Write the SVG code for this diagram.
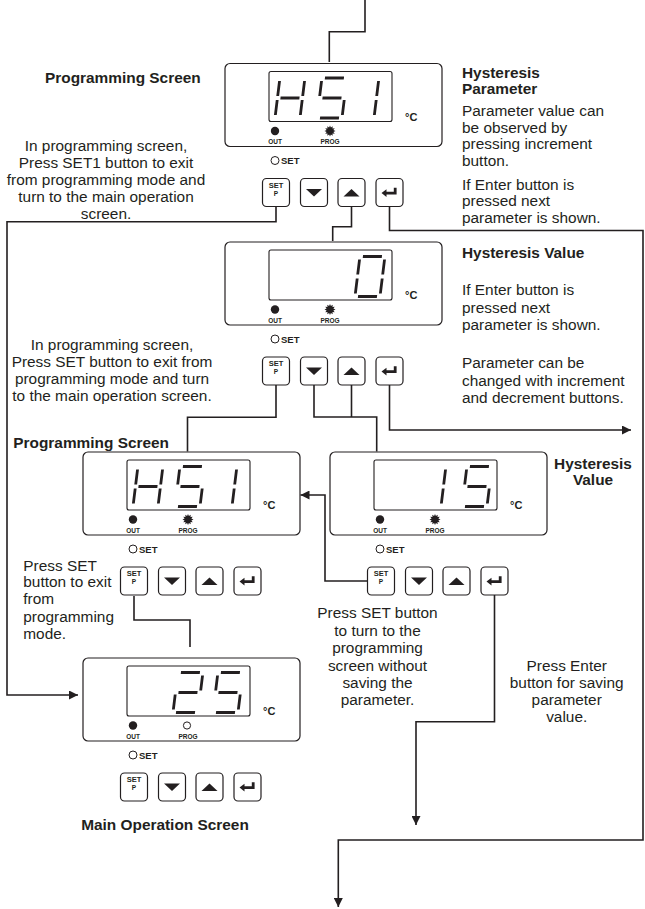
<svg xmlns="http://www.w3.org/2000/svg" xmlns:xlink="http://www.w3.org/1999/xlink" width="645" height="909" viewBox="0 0 645 909">
<style>
.box{fill:#fff;stroke:#231f20;stroke-width:1.2}
.disp{fill:none;stroke:#231f20;stroke-width:1.1}
.btn{fill:#fff;stroke:#231f20;stroke-width:1.2}
.seg{fill:none;stroke:#231f20;stroke-width:2.8}
.ink{fill:#231f20}
.ring{fill:#fff;stroke:#231f20;stroke-width:1}
.t{font-family:"Liberation Sans",Arial,sans-serif;font-size:15.4px;fill:#231f20}
.b{font-weight:bold}
.m{text-anchor:middle}
.lab{font-family:"Liberation Sans",Arial,sans-serif;font-size:6.5px;font-weight:bold;text-anchor:middle;fill:#231f20}
.bt{font-family:"Liberation Sans",Arial,sans-serif;font-weight:bold;text-anchor:middle;fill:#231f20}
.deg{font-family:"Liberation Sans",Arial,sans-serif;font-size:11px;font-weight:bold;fill:#231f20}
.sl{font-family:"Liberation Sans",Arial,sans-serif;font-size:9.5px;font-weight:bold;fill:#231f20}
.wire{fill:none;stroke:#231f20;stroke-width:1.6}
</style>
<defs>
<marker id="ah" viewBox="0 0 10 10" refX="10" refY="5" markerWidth="11" markerHeight="9" markerUnits="userSpaceOnUse" orient="auto"><path d="M0,0 L10,5 L0,10 Z" fill="#231f20"/></marker>
<path id="dH" class="seg" d="M0,-37V-22M0,-18V-3M25,-37V-22M25,-18V-3M3,-20H22"/>
<path id="d5" class="seg" d="M3,-40H22M0,-37V-22M3,-20H22M25,-18V-3M3,0H22"/>
<path id="d1" class="seg" d="M25,-37V-22M25,-18V-3"/>
<path id="d0" class="seg" d="M3,-40H22M25,-37V-22M25,-18V-3M3,0H22M0,-18V-3M0,-37V-22"/>
<path id="d2" class="seg" d="M3,-40H22M25,-37V-22M3,-20H22M0,-18V-3M3,0H22"/>
<polygon id="sun" class="ink" points="5.5,0 3.38,0.91 4.76,2.75 2.47,2.47 2.75,4.76 0.91,3.38 0,5.5 -0.91,3.38 -2.75,4.76 -2.47,2.47 -4.76,2.75 -3.38,0.91 -5.5,0 -3.38,-0.91 -4.76,-2.75 -2.47,-2.47 -2.75,-4.76 -0.91,-3.38 0,-5.5 0.91,-3.38 2.75,-4.76 2.47,-2.47 4.76,-2.75 3.38,-0.91"/>
<path id="ent" class="ink" d="M156.5,129.6 L161.5,125.8 V128.3 H168.8 V124.3 H171.6 V131 H161.5 V133.4 Z"/>
</defs>

<g id="connectors">
<path class="wire" d="M365,0 V31.7 H329.3 V62"/>
<path class="wire" marker-end="url(#ah)" d="M276,207 V221.7 H7 V695 H78"/>
<path class="wire" d="M351.5,207 V226.7 H332.7 V241"/>
<path class="wire" marker-end="url(#ah)" d="M389.5,207 V230.5 H643 V840 H338.3 V907"/>
<path class="wire" d="M276,385 V417.3 H187.5 V451.5"/>
<path class="wire" d="M314,385 V417 H376.7 V451.5 M351.5,385 V417"/>
<path class="wire" marker-end="url(#ah)" d="M389.5,385 V430 H631"/>
<path class="wire" marker-end="url(#ah)" d="M367.5,581 H325 V495 H300.5"/>
<path class="wire" marker-end="url(#ah)" d="M494.5,595 V721.7 H416 V825"/>
<path class="wire" d="M134,596 V620 H190 V647"/>
</g>

<g id="dev1" transform="translate(225,63.5)">
<rect class="box" x="0" y="0" width="217" height="83" rx="5"/>
<rect class="disp" x="44" y="8" width="123" height="50" rx="2"/>
<use href="#dH" transform="translate(50,54.5) skewX(-7)"/>
<use href="#d5" transform="translate(92,54.5) skewX(-7)"/>
<use href="#d1" transform="translate(124,54.5) skewX(-7)"/>
<text class="deg" x="180" y="57">°C</text>
<circle class="ink" cx="50" cy="67.5" r="4.2"/>
<use href="#sun" transform="translate(105,67.5)"/>
<text class="lab" x="50" y="80.5">OUT</text>
<text class="lab" x="105" y="80.5">PROG</text>
<circle class="ring" cx="50" cy="97" r="4"/>
<text class="sl" x="56" y="100.5">SET</text>
<rect class="btn" x="37.5" y="115" width="27" height="28" rx="4"/>
<text class="bt" x="51" y="124" font-size="7.5">SET</text>
<text class="bt" x="51" y="132" font-size="6.5">P</text>
<rect class="btn" x="75.5" y="115" width="27" height="28" rx="4"/>
<polygon class="ink" points="81,125.5 97,125.5 89,133"/>
<rect class="btn" x="113" y="115" width="27" height="28" rx="4"/>
<polygon class="ink" points="118.5,133 134.5,133 126.5,125.5"/>
<rect class="btn" x="151" y="115" width="27" height="28" rx="4"/>
<use href="#ent"/>
</g>

<g id="dev2" transform="translate(225,242)">
<rect class="box" x="0" y="0" width="217" height="83" rx="5"/>
<rect class="disp" x="44" y="8" width="123" height="50" rx="2"/>
<use href="#d0" transform="translate(130,54.5) skewX(-7)"/>
<text class="deg" x="180" y="57">°C</text>
<circle class="ink" cx="50" cy="67.5" r="4.2"/>
<use href="#sun" transform="translate(105,67.5)"/>
<text class="lab" x="50" y="80.5">OUT</text>
<text class="lab" x="105" y="80.5">PROG</text>
<circle class="ring" cx="50" cy="97" r="4"/>
<text class="sl" x="56" y="100.5">SET</text>
<rect class="btn" x="37.5" y="115" width="27" height="28" rx="4"/>
<text class="bt" x="51" y="124" font-size="7.5">SET</text>
<text class="bt" x="51" y="132" font-size="6.5">P</text>
<rect class="btn" x="75.5" y="115" width="27" height="28" rx="4"/>
<polygon class="ink" points="81,125.5 97,125.5 89,133"/>
<rect class="btn" x="113" y="115" width="27" height="28" rx="4"/>
<polygon class="ink" points="118.5,133 134.5,133 126.5,125.5"/>
<rect class="btn" x="151" y="115" width="27" height="28" rx="4"/>
<use href="#ent"/>
</g>

<g id="dev3" transform="translate(83,452)">
<rect class="box" x="0" y="0" width="217" height="83" rx="5"/>
<rect class="disp" x="44" y="8" width="123" height="50" rx="2"/>
<use href="#dH" transform="translate(50,54.5) skewX(-7)"/>
<use href="#d5" transform="translate(92,54.5) skewX(-7)"/>
<use href="#d1" transform="translate(124,54.5) skewX(-7)"/>
<text class="deg" x="180" y="57">°C</text>
<circle class="ink" cx="50" cy="67.5" r="4.2"/>
<use href="#sun" transform="translate(105,67.5)"/>
<text class="lab" x="50" y="80.5">OUT</text>
<text class="lab" x="105" y="80.5">PROG</text>
<circle class="ring" cx="50" cy="97" r="4"/>
<text class="sl" x="56" y="100.5">SET</text>
<rect class="btn" x="37.5" y="115" width="27" height="28" rx="4"/>
<text class="bt" x="51" y="124" font-size="7.5">SET</text>
<text class="bt" x="51" y="132" font-size="6.5">P</text>
<rect class="btn" x="75.5" y="115" width="27" height="28" rx="4"/>
<polygon class="ink" points="81,125.5 97,125.5 89,133"/>
<rect class="btn" x="113" y="115" width="27" height="28" rx="4"/>
<polygon class="ink" points="118.5,133 134.5,133 126.5,125.5"/>
<rect class="btn" x="151" y="115" width="27" height="28" rx="4"/>
<use href="#ent"/>
</g>

<g id="dev4" transform="translate(330,452)">
<rect class="box" x="0" y="0" width="217" height="83" rx="5"/>
<rect class="disp" x="44" y="8" width="123" height="50" rx="2"/>
<use href="#d1" transform="translate(86,54.5) skewX(-7)"/>
<use href="#d5" transform="translate(132,54.5) skewX(-7)"/>
<text class="deg" x="180" y="57">°C</text>
<circle class="ink" cx="50" cy="67.5" r="4.2"/>
<use href="#sun" transform="translate(105,67.5)"/>
<text class="lab" x="50" y="80.5">OUT</text>
<text class="lab" x="105" y="80.5">PROG</text>
<circle class="ring" cx="50" cy="97" r="4"/>
<text class="sl" x="56" y="100.5">SET</text>
<rect class="btn" x="37.5" y="115" width="27" height="28" rx="4"/>
<text class="bt" x="51" y="124" font-size="7.5">SET</text>
<text class="bt" x="51" y="132" font-size="6.5">P</text>
<rect class="btn" x="75.5" y="115" width="27" height="28" rx="4"/>
<polygon class="ink" points="81,125.5 97,125.5 89,133"/>
<rect class="btn" x="113" y="115" width="27" height="28" rx="4"/>
<polygon class="ink" points="118.5,133 134.5,133 126.5,125.5"/>
<rect class="btn" x="151" y="115" width="27" height="28" rx="4"/>
<use href="#ent"/>
</g>

<g id="dev5" transform="translate(83,658)">
<rect class="box" x="0" y="0" width="217" height="83" rx="5"/>
<rect class="disp" x="44" y="8" width="123" height="50" rx="2"/>
<use href="#d2" transform="translate(90,54.5) skewX(-7)"/>
<use href="#d5" transform="translate(130,54.5) skewX(-7)"/>
<text class="deg" x="180" y="57">°C</text>
<circle class="ink" cx="50" cy="67.5" r="4.2"/>
<circle class="ring" cx="104" cy="67.5" r="3.6"/>
<text class="lab" x="50" y="80.5">OUT</text>
<text class="lab" x="105" y="80.5">PROG</text>
<circle class="ring" cx="50" cy="97" r="4"/>
<text class="sl" x="56" y="100.5">SET</text>
<rect class="btn" x="37.5" y="115" width="27" height="28" rx="4"/>
<text class="bt" x="51" y="124" font-size="7.5">SET</text>
<text class="bt" x="51" y="132" font-size="6.5">P</text>
<rect class="btn" x="75.5" y="115" width="27" height="28" rx="4"/>
<polygon class="ink" points="81,125.5 97,125.5 89,133"/>
<rect class="btn" x="113" y="115" width="27" height="28" rx="4"/>
<polygon class="ink" points="118.5,133 134.5,133 126.5,125.5"/>
<rect class="btn" x="151" y="115" width="27" height="28" rx="4"/>
<use href="#ent"/>
</g>

<g id="labels">
<text class="t b" x="45" y="83">Programming Screen</text>
<text class="t m" x="106"><tspan x="106" y="151">In programming screen,</tspan><tspan x="106" y="168">Press SET1 button to exit</tspan><tspan x="106" y="185">from programming mode and</tspan><tspan x="106" y="202">turn to the main operation</tspan><tspan x="106" y="219">screen.</tspan></text>
<text class="t b" x="462"><tspan x="462" y="78">Hysteresis</tspan><tspan x="462" y="94">Parameter</tspan></text>
<text class="t" x="462"><tspan x="462" y="116">Parameter value can</tspan><tspan x="462" y="132.5">be observed by</tspan><tspan x="462" y="149">pressing increment</tspan><tspan x="462" y="165.5">button.</tspan><tspan x="462" y="189.5">If Enter button is</tspan><tspan x="462" y="206">pressed next</tspan><tspan x="462" y="222.5">parameter is shown.</tspan></text>
<text class="t b" x="462" y="258.3">Hysteresis Value</text>
<text class="t" x="462"><tspan x="462" y="295">If Enter button is</tspan><tspan x="462" y="312.5">pressed next</tspan><tspan x="462" y="330">parameter is shown.</tspan><tspan x="462" y="368">Parameter can be</tspan><tspan x="462" y="385.5">changed with increment</tspan><tspan x="462" y="403">and decrement buttons.</tspan></text>
<text class="t m" x="112"><tspan x="112" y="350">In programming screen,</tspan><tspan x="112" y="367.3">Press SET button to exit from</tspan><tspan x="112" y="384">programming mode and turn</tspan><tspan x="112" y="400.7">to the main operation screen.</tspan></text>
<text class="t b" x="13.3" y="448">Programming Screen</text>
<text class="t b m" x="593"><tspan x="593" y="469">Hysteresis</tspan><tspan x="593" y="485">Value</tspan></text>
<text class="t" x="23.3"><tspan x="23.3" y="570.7">Press SET</tspan><tspan x="23.3" y="587">button to exit</tspan><tspan x="23.3" y="604">from</tspan><tspan x="23.3" y="621.7">programming</tspan><tspan x="23.3" y="639">mode.</tspan></text>
<text class="t m" x="377.5"><tspan x="377.5" y="618.3">Press SET button</tspan><tspan x="377.5" y="635.7">to turn to the</tspan><tspan x="377.5" y="653">programming</tspan><tspan x="377.5" y="670.5">screen without</tspan><tspan x="377.5" y="687.5">saving the</tspan><tspan x="377.5" y="705">parameter.</tspan></text>
<text class="t m" x="566.7"><tspan x="566.7" y="670.5">Press Enter</tspan><tspan x="566.7" y="687.5">button for saving</tspan><tspan x="566.7" y="705">parameter</tspan><tspan x="566.7" y="722">value.</tspan></text>
<text class="t b m" x="165" y="830">Main Operation Screen</text>
</g>
</svg>
